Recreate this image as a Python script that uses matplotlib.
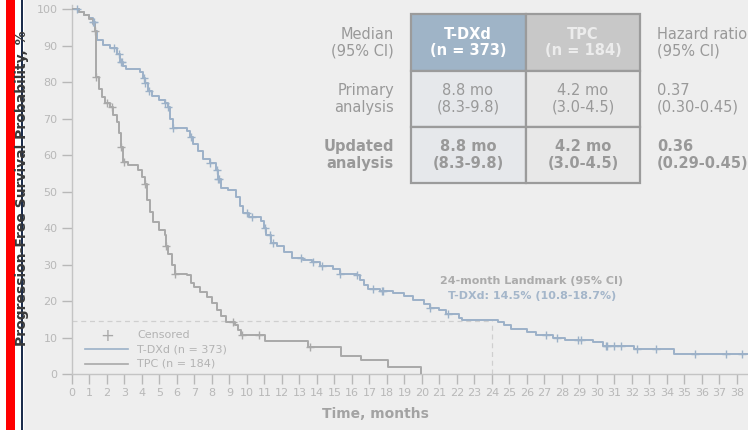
import numpy as np
import matplotlib
matplotlib.use("Agg")
import matplotlib.pyplot as plt
from matplotlib.patches import Rectangle
from matplotlib.lines import Line2D

W, H = 748, 430
BG = '#eeeeee'

# Kaplan-Meier step data
tdxd_t = [0, 0.4, 0.7, 1.0, 1.2, 1.3, 1.45, 1.8, 2.2, 2.55, 2.75, 2.9, 3.1, 3.9, 4.05,
          4.2, 4.35, 4.6, 5.0, 5.3, 5.5, 5.6, 5.75, 6.55, 6.75, 6.9, 7.2, 7.5, 7.9, 8.25,
          8.35, 8.5, 8.9, 9.4, 9.6, 9.8, 10.1, 10.8, 10.95, 11.1, 11.4, 11.7, 12.1, 12.6,
          13.2, 13.7, 14.2, 14.9, 15.3, 16.3, 16.45, 16.7, 16.9, 17.6, 18.35, 19.0, 19.5,
          20.1, 20.45, 21.0, 21.4, 22.1, 22.3, 24.35, 24.7, 25.1, 26.0, 26.5, 27.5, 28.2,
          29.8, 30.35, 32.1, 34.4]
tdxd_s = [100, 99.2, 98.4, 97.5, 96.5, 94, 91.5, 90.2, 89.2, 87.8, 85.5, 84.5, 83.7, 82.8, 81,
          79.6, 77.5, 76.2, 75.2, 74.2, 73.2, 70, 67.3, 66.6, 65, 63, 61, 59, 57.8, 55.8,
          53.5, 51, 50.3, 48.6, 46, 44, 43, 42, 40, 38, 36, 35, 33.5, 31.7,
          31.2, 30.6, 29.6, 28.8, 27.5, 27.0, 25.8, 24.5, 23.3, 22.8, 22.3, 21.5, 20.3,
          19.3, 18.2, 17.4, 16.5, 15.4, 14.8, 14.2, 13.5, 12.3, 11.6, 10.6, 10.0, 9.4,
          8.9, 7.6, 6.8, 5.5]
tdxd_end = 38.63
tdxd_cens = [0.3, 1.2, 1.25, 2.4, 2.7, 2.8, 2.85, 4.1, 4.2, 4.4, 5.3, 5.5, 5.8, 6.8, 7.9,
             8.3, 8.35, 8.4, 10.0, 10.3, 11.05, 11.3, 11.5, 13.1, 13.8, 14.3, 15.3, 16.3,
             17.2, 17.7, 17.8, 20.45, 21.5, 27.1, 27.7, 28.9, 29.1, 30.5, 30.6, 31.0, 31.4,
             32.3, 33.4, 35.6, 37.4, 38.3]

tpc_t = [0, 0.4, 0.7, 1.0, 1.2, 1.3, 1.35, 1.4, 1.55, 1.7, 1.9, 2.2, 2.35, 2.55, 2.7, 2.8,
         2.9, 3.2, 3.8, 4.0, 4.2, 4.3, 4.45, 4.65, 5.0, 5.3, 5.4, 5.5, 5.7, 5.9, 6.6, 6.8,
         7.0, 7.3, 7.7, 8.0, 8.3, 8.5, 8.8, 9.3, 9.5, 9.65, 11.05, 13.5, 15.4, 16.5, 18.05,
         19.95]
tpc_s = [100, 99.2, 98.4, 97.2, 96, 94, 88, 81.5, 78, 76, 74.2, 73.2, 71, 69, 66, 62.3,
         58.2, 57.3, 55.9, 54, 52, 47.7, 44.5, 41.7, 39.5, 38.1, 35, 33, 30, 27.5, 27.0, 25,
         23.8, 22.5, 21, 19.5, 17.5, 16, 14.3, 13.4, 12, 10.7, 9.1, 7.5, 4.8, 3.8, 2.0,
         0]
tpc_cens = [1.3, 1.4, 2.0, 2.3, 2.8, 3.0, 4.2, 5.4, 5.9, 9.2, 9.7, 10.7, 13.6]

xticks = list(range(0, 39))
yticks = list(range(0, 101, 10))

landmark_t = 24
landmark_s = 14.5

row_labels = ['Median\n(95% CI)', 'Primary\nanalysis', 'Updated\nanalysis']
col_heads = ['T-DXd\n(n = 373)', 'TPC\n(n = 184)']
tdxd_med = ['8.8 mo\n(8.3-9.8)', '8.8 mo\n(8.3-9.8)']
tpc_med = ['4.2 mo\n(3.0-4.5)', '4.2 mo\n(3.0-4.5)']
hr_col = ['Hazard ratio\n(95% CI)', '0.37\n(0.30-0.45)', '0.36\n(0.29-0.45)']


def fx(x):
    return x / W


def fy(y):
    return 1 - y / H


def surv_at(ts, ss, x):
    i = np.searchsorted(ts, x, side='right') - 1
    return np.asarray(ss)[i]


fig = plt.figure(figsize=(W / 100, H / 100), dpi=100, facecolor=BG)
ax = fig.add_axes([fx(72), fy(374), fx(676), 369 / H])
ax.set_facecolor(BG)

c_tdxd = '#9cb1c8'
c_tpc = '#a9a9a9'
c_tick = '#b8b8b8'

ax.step(tdxd_t + [tdxd_end], tdxd_s + [tdxd_s[-1]], where='post', color=c_tdxd, lw=1.4, zorder=3)
ax.step(tpc_t, tpc_s, where='post', color=c_tpc, lw=1.4, zorder=3)
ax.plot(tdxd_cens, surv_at(tdxd_t, tdxd_s, tdxd_cens), '+', color=c_tdxd, ms=6, mew=1, zorder=4)
ax.plot(tpc_cens, surv_at(tpc_t, tpc_s, tpc_cens), '+', color=c_tpc, ms=6, mew=1, zorder=4)

# landmark guides
ax.plot([0, landmark_t], [landmark_s, landmark_s], ls=(0, (4, 3)), color='#cfcfcf', lw=0.9, zorder=1)
ax.plot([landmark_t, landmark_t], [0, landmark_s], ls=(0, (4, 3)), color='#cfcfcf', lw=0.9, zorder=1)

ax.set_xlim(0, tdxd_end)
ax.set_ylim(0, 101.1)
ax.set_xticks(xticks)
ax.set_yticks(yticks)
for s in ['top', 'right']:
    ax.spines[s].set_visible(False)
for s in ['left', 'bottom']:
    ax.spines[s].set_color('#c4c4c4')
    ax.spines[s].set_linewidth(1.0)
ax.tick_params(colors=c_tick, labelsize=8, length=7, width=1.0, labelcolor=c_tick)
ax.tick_params(axis='x', pad=3)

ax.set_xlabel('Time, months', fontsize=10, fontweight='bold', color='#a3a3a3')
ax.xaxis.set_label_coords((375 - 72) / 676, -(407 - 374) / 369)

# landmark annotation
fig.text(fx(532), fy(281), '24-month Landmark (95% CI)', ha='center', va='center',
         fontsize=8, fontweight='bold', color='#ababab')
fig.text(fx(532), fy(296), 'T-DXd: 14.5% (10.8-18.7%)', ha='center', va='center',
         fontsize=8, fontweight='bold', color='#a4b6ca')

# legend
fig.text(fx(107), fy(336), '+', ha='center', va='center', fontsize=12, color='#a8a8a8')
fig.add_artist(Line2D([fx(85), fx(128)], [fy(349), fy(349)], color=c_tdxd, lw=1.2))
fig.add_artist(Line2D([fx(85), fx(128)], [fy(364), fy(364)], color=c_tpc, lw=1.2))
for yy, txt in [(335, 'Censored'), (349, 'T-DXd (n = 373)'), (363, 'TPC (n = 184)')]:
    fig.text(fx(137), fy(yy), txt, ha='left', va='center', fontsize=8, color='#b3b3b3')

# table
cols = [411, 526, 640]
rows = [14, 71, 127, 183]
fills = [['#9fb4c7', '#c8c8c8'], ['#e6e8eb', '#e8e8e8'], ['#e6e8eb', '#e8e8e8']]
for r in range(3):
    for c in range(2):
        x0, x1 = cols[c], cols[c + 1]
        y0, y1 = rows[r], rows[r + 1]
        fig.add_artist(Rectangle((fx(x0), fy(y1)), fx(x1 - x0), (y1 - y0) / H,
                                 facecolor=fills[r][c], edgecolor='#9b9b9b', lw=1.6))

mids = [(rows[i] + rows[i + 1]) / 2 for i in range(3)]
for i, lab in enumerate(row_labels):
    fig.text(fx(394), fy(mids[i]), lab, ha='right', va='center', fontsize=10.5,
             color='#999999', linespacing=1.1, fontweight='bold' if i == 2 else 'normal')
for i, lab in enumerate(hr_col):
    fig.text(fx(657), fy(mids[i]), lab, ha='left', va='center', fontsize=10.5,
             color='#999999', linespacing=1.1, fontweight='bold' if i == 2 else 'normal')
fig.text(fx(468), fy(mids[0]), col_heads[0], ha='center', va='center', fontsize=10.5,
         color='white', fontweight='bold', linespacing=1.1)
fig.text(fx(583), fy(mids[0]), col_heads[1], ha='center', va='center', fontsize=10.5,
         color='#ececec', fontweight='bold', linespacing=1.1)
for i in range(2):
    fw = 'bold' if i == 1 else 'normal'
    fig.text(fx(468), fy(mids[i + 1]), tdxd_med[i], ha='center', va='center', fontsize=10.5,
             color='#999999', fontweight=fw, linespacing=1.1)
    fig.text(fx(583), fy(mids[i + 1]), tpc_med[i], ha='center', va='center', fontsize=10.5,
             color='#999999', fontweight=fw, linespacing=1.1)

# left edge decorations
fig.add_artist(Rectangle((0, 0), fx(24), 1, facecolor='white', edgecolor='none', zorder=0))
fig.add_artist(Rectangle((fx(6), 0), fx(9), 1, facecolor='#ff0000', edgecolor='none'))
fig.add_artist(Rectangle((fx(21), 0), fx(2), 1, facecolor='#1c2d4c', edgecolor='none'))

fig.text(fx(22), fy(188), 'Progression-Free Survival Probability, %', rotation=90,
         ha='center', va='center', fontsize=10, fontweight='bold', color='#3a3a3a')

fig.savefig('out.png', dpi=100, facecolor=BG)
